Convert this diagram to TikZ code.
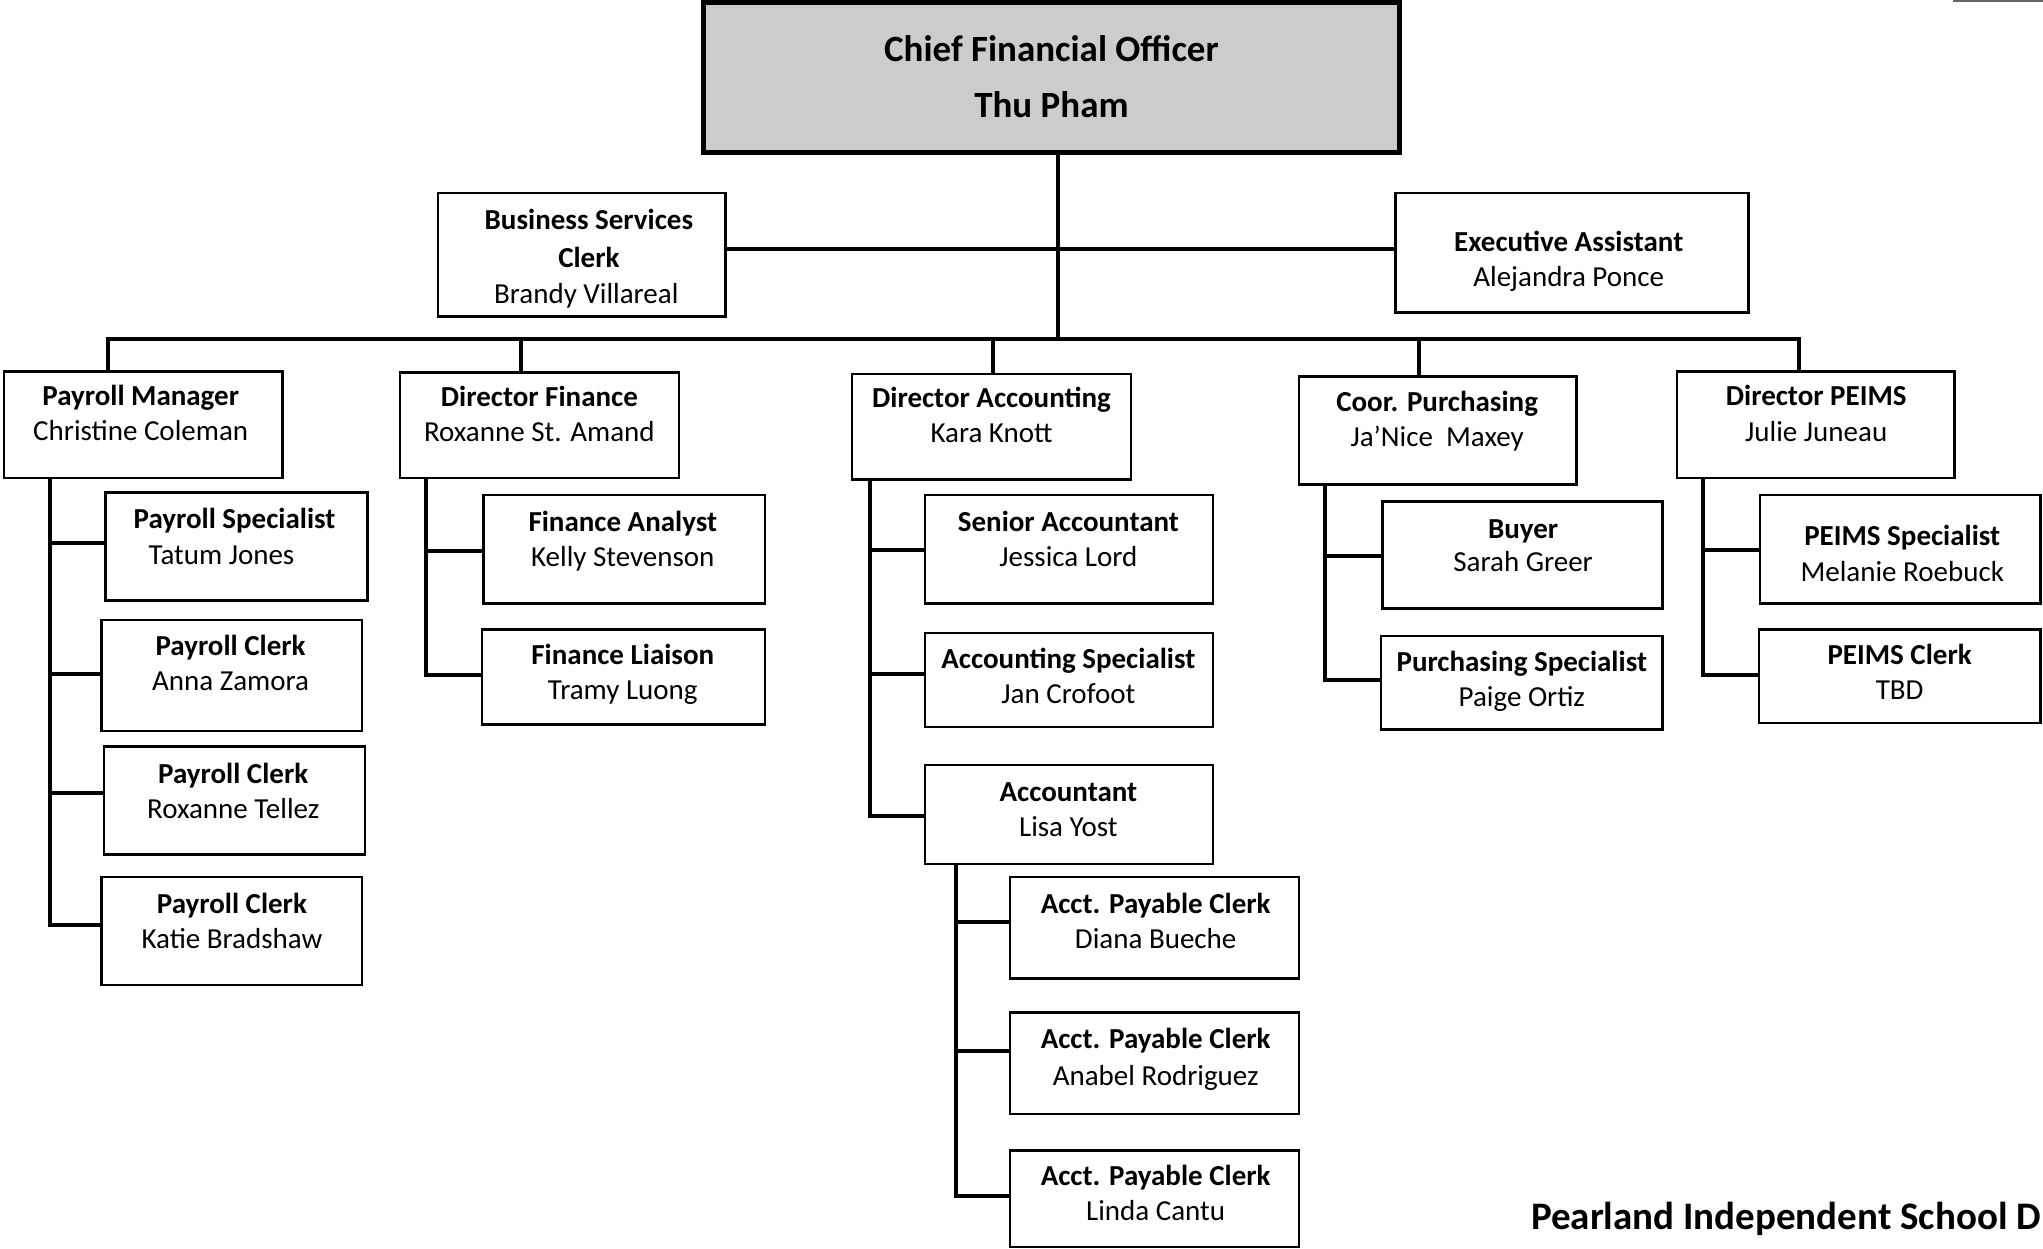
\documentclass[tikz,border=0pt]{standalone}
\usepackage{fontspec}
\setmainfont{Carlito}
\usetikzlibrary{fit}
\definecolor{cfogray}{RGB}{204,204,204}
\tikzset{
  box/.style={draw, line width=2.5pt, inner sep=0pt, fill=white},
  cfobox/.style={draw, line width=5pt, inner sep=0pt, fill=cfogray},
  ttl/.style={font=\bfseries\fontsize{29}{35}\selectfont, anchor=base, inner sep=0pt},
  nm/.style={font=\fontsize{29}{35}\selectfont, anchor=base, inner sep=0pt},
  bigttl/.style={font=\bfseries\fontsize{37}{44}\selectfont, anchor=base, inner sep=0pt},
  conn/.style={line width=4pt},
}
\newcommand{\orgbox}[5]{\node[box, fit={(#2,#3) (#4,#5)}] (#1) {};}
\newcommand{\orgtxt}[6]{% name, cx, y1, title, y2, person
  \node[ttl] (#1t) at (#2,#3+7) {#4};
  \node[nm] (#1n) at (#2,#5+7) {#6};}
\begin{document}
\begin{tikzpicture}[x=1.3029pt,y=-1.3029pt]
\useasboundingbox (0,0) rectangle (1568.04,957.86);
% ---------- connectors (drawn first) ----------
\coordinate (cfoJ) at (812,260);
\coordinate (cfoH) at (812,191);
\coordinate (busL) at (83,260);
\coordinate (busR) at (1381,260);
\coordinate (d2) at (400,260);
\coordinate (d3) at (762,260);
\coordinate (d4) at (1089,260);
% boxes
\node[cfobox, fit={(540,2) (1074,117)}] (cfo) {};
\orgbox{bsc}{336}{148}{557}{243}
\orgbox{ea}{1071}{148}{1342}{240}
\orgbox{pm}{3}{285}{217}{367}
\orgbox{df}{307}{286}{521}{367}
\orgbox{da}{654}{287}{868}{368}
\orgbox{cp}{997}{289}{1210}{372}
\orgbox{dp}{1287}{285}{1500}{367}
\orgbox{ps}{81}{378}{282}{461}
\orgbox{pca}{78}{476}{278}{561}
\orgbox{pcb}{80}{573}{280}{656}
\orgbox{pcc}{78}{673}{278}{756}
\orgbox{fa}{371}{380}{587}{463}
\orgbox{fl}{370}{483}{587}{556}
\orgbox{sa}{710}{380}{931}{463}
\orgbox{as}{710}{486}{931}{558}
\orgbox{acc}{710}{587}{931}{663}
\orgbox{apa}{775}{673}{997}{751}
\orgbox{apb}{775}{777}{997}{855}
\orgbox{apc}{775}{883}{997}{957}
\orgbox{buy}{1061}{385}{1276}{467}
\orgbox{pus}{1060}{488}{1276}{560}
\orgbox{pes}{1351}{380}{1566}{463}
\orgbox{pcl}{1350}{483}{1566}{555}
% top-level connectors
\draw[conn] (cfoJ |- cfo.south) -- (cfoJ);
\draw[conn] (cfoH -| bsc.east) -- (cfoH -| ea.west);
\draw[conn] (busL |- pm.north) -- (busL) -- (busR) -- (busR |- dp.north);
\draw[conn] (d2) -- (d2 |- df.north);
\draw[conn] (d3) -- (d3 |- da.north);
\draw[conn] (d4) -- (d4 |- cp.north);
% payroll
\coordinate (pA) at (38,417); \coordinate (pB) at (38,517);
\coordinate (pC) at (38,609); \coordinate (pD) at (38,710);
\draw[conn] (pA |- pm.south) -- (pD) -- (pD -| pcc.west);
\draw[conn] (pA) -- (pA -| ps.west);
\draw[conn] (pB) -- (pB -| pca.west);
\draw[conn] (pC) -- (pC -| pcb.west);
% finance
\coordinate (fA) at (327,423); \coordinate (fB) at (327,518);
\draw[conn] (fA |- df.south) -- (fB) -- (fB -| fl.west);
\draw[conn] (fA) -- (fA -| fa.west);
% accounting
\coordinate (aA) at (668,422); \coordinate (aB) at (668,517); \coordinate (aC) at (668,626);
\draw[conn] (aA |- da.south) -- (aC) -- (aC -| acc.west);
\draw[conn] (aA) -- (aA -| sa.west);
\draw[conn] (aB) -- (aB -| as.west);
% accountant
\coordinate (cA) at (734,708); \coordinate (cB) at (734,807); \coordinate (cC) at (734,918);
\draw[conn] (cA |- acc.south) -- (cC) -- (cC -| apc.west);
\draw[conn] (cA) -- (cA -| apa.west);
\draw[conn] (cB) -- (cB -| apb.west);
% purchasing
\coordinate (uA) at (1017,427); \coordinate (uB) at (1017,522);
\draw[conn] (uA |- cp.south) -- (uB) -- (uB -| pus.west);
\draw[conn] (uA) -- (uA -| buy.west);
% peims
\coordinate (eA) at (1307,422); \coordinate (eB) at (1307,518);
\draw[conn] (eA |- dp.south) -- (eB) -- (eB -| pcl.west);
\draw[conn] (eA) -- (eA -| pes.west);
% ---------- texts ----------
\node[bigttl] (cfot) at (807,47) {Chief Financial Officer};
\node[bigttl] (cfon) at (807,90) {Thu Pham};
\node[ttl] (bsct) at (452,176) {Business Services};
\node[ttl] (bsct2) at (452,205) {Clerk};
\node[nm] (bscn) at (450,233) {Brandy Villareal};
\orgtxt{ea}{1204}{186}{Executive Assistant}{213}{Alejandra Ponce}
\orgtxt{pm}{108}{304}{Payroll Manager}{331}{Christine Coleman}
\orgtxt{df}{414}{305}{Director Finance}{332}{Roxanne St. Amand}
\orgtxt{da}{761}{306}{Director Accounting}{333}{Kara Knott}
\orgtxt{cp}{1103}{309}{Coor. Purchasing}{336}{Ja’Nice\ \ Maxey}
\orgtxt{dp}{1394}{304}{Director PEIMS}{332}{Julie Juneau}
\node[ttl] (pst) at (180,406) {Payroll Specialist};
\node[nm] (psn) at (170,433) {Tatum Jones};
\orgtxt{pca}{177}{496}{Payroll Clerk}{523}{Anna Zamora}
\orgtxt{pcb}{179}{594}{Payroll Clerk}{621}{Roxanne Tellez}
\orgtxt{pcc}{178}{694}{Payroll Clerk}{721}{Katie Bradshaw}
\orgtxt{fa}{478}{401}{Finance Analyst}{428}{Kelly Stevenson}
\orgtxt{fl}{478}{503}{Finance Liaison}{530}{Tramy Luong}
\orgtxt{sa}{820}{401}{Senior Accountant}{428}{Jessica Lord}
\orgtxt{as}{820}{506}{Accounting Specialist}{533}{Jan Crofoot}
\orgtxt{acc}{820}{608}{Accountant}{635}{Lisa Yost}
\orgtxt{apa}{887}{694}{Acct. Payable Clerk}{721}{Diana Bueche}
\orgtxt{apb}{887}{798}{Acct. Payable Clerk}{826}{Anabel Rodriguez}
\orgtxt{apc}{887}{903}{Acct. Payable Clerk}{930}{Linda Cantu}
\orgtxt{buy}{1169}{406}{Buyer}{432}{Sarah Greer}
\orgtxt{pus}{1168}{508}{Purchasing Specialist}{535}{Paige Ortiz}
\orgtxt{pes}{1460}{412}{PEIMS Specialist}{439}{Melanie Roebuck}
\orgtxt{pcl}{1458}{503}{PEIMS Clerk}{530}{TBD}
\node[font=\bfseries\fontsize{39}{46}\selectfont, anchor=base west, inner sep=0pt] (district) at (1175,944) {Pearland Independent School D};
\draw[line width=1.5pt, black!60] (1499,0.6) -- (1568,0.6);
\end{tikzpicture}
\end{document}
